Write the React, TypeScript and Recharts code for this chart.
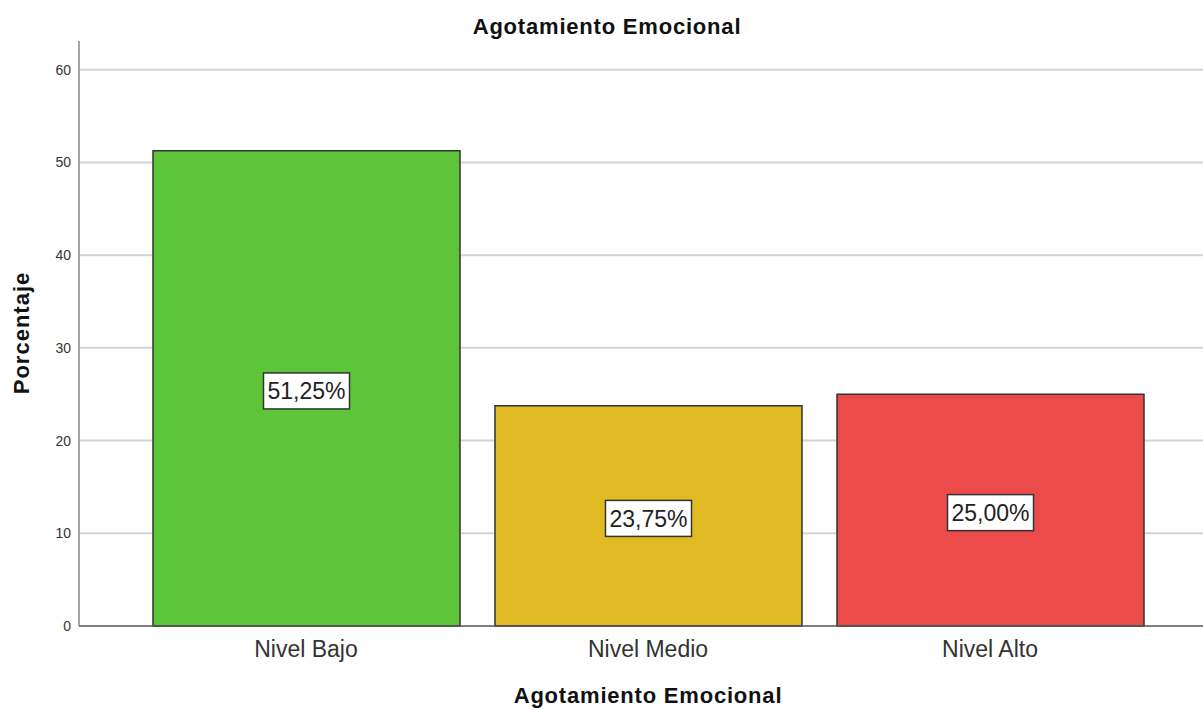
import React from 'react';
import { BarChart, Bar, XAxis, YAxis, CartesianGrid, Cell, LabelList } from 'recharts';

const categories = ['Nivel Bajo', 'Nivel Medio', 'Nivel Alto'];
const percentages = [51.25, 23.75, 25.0];
const barColors = ['#5EC43A', '#E0BA22', '#EB4B4B'];
const yTicks = [0, 10, 20, 30, 40, 50, 60];
const gridValues = [10, 20, 30, 40, 50, 60];

const chartData = categories.map((name, i) => ({ name, value: percentages[i] }));

const FONT = '"Liberation Sans", Arial, sans-serif';

// white box with the percentage in the middle of each bar
const BoxLabel = (props: any) => {
  const { x, y, width, height, value } = props;
  const text = value.toFixed(2).replace('.', ',') + '%';
  const cx = x + width / 2;
  const cy = y + height / 2 + 2.5;
  const w = 4 * 12.8 + 6.4 + 20.4 + 8;
  const h = 36;
  return (
    <g>
      <rect x={cx - w / 2} y={cy - h / 2} width={w} height={h} fill="#fff" stroke="#333" strokeWidth={1.5} />
      <text x={cx} y={cy + 8.3} textAnchor="middle" fontSize={23} fontFamily={FONT} fill="#222">
        {text}
      </text>
    </g>
  );
};

export default function App() {
  const titleStyle: React.CSSProperties = {
    position: 'absolute',
    fontWeight: 'bold',
    fontSize: 22,
    letterSpacing: 0.8,
    color: '#111',
    whiteSpace: 'nowrap',
  };
  return (
    <div style={{ position: 'absolute', left: 0, top: 0, width: 1203, height: 709, background: '#fff', fontFamily: FONT }}>
      <div style={{ ...titleStyle, top: 14, left: 607, transform: 'translateX(-50%)' }}>
        Agotamiento Emocional
      </div>
      <div style={{ ...titleStyle, left: 22, top: 333, letterSpacing: 1, transform: 'translate(-50%, -50%) rotate(-90deg)' }}>
        Porcentaje
      </div>
      <div style={{ ...titleStyle, top: 683, left: 648, transform: 'translateX(-50%)' }}>
        Agotamiento Emocional
      </div>
      <BarChart width={1203} height={709} data={chartData} margin={{ top: 41, right: 0, bottom: 0, left: 0 }} barSize={307}>
        <CartesianGrid vertical={false} horizontalValues={gridValues} stroke="#d4d4d4" strokeWidth={2} />
        <XAxis
          dataKey="name"
          height={83}
          padding={{ left: 56, right: 42 }}
          tickLine={false}
          tickSize={0}
          tickMargin={15}
          axisLine={{ stroke: '#555', strokeWidth: 1.5 }}
          tick={{ fontSize: 23, fill: '#333', fontFamily: FONT }}
        />
        <YAxis
          width={79}
          domain={[0, 63.1]}
          ticks={yTicks}
          tickLine={false}
          tickSize={0}
          tickMargin={8}
          axisLine={{ stroke: '#888', strokeWidth: 1.5 }}
          tick={{ fontSize: 14, fill: '#333', fontFamily: FONT }}
        />
        <Bar dataKey="value" stroke="#333" strokeWidth={1.5} isAnimationActive={false}>
          {chartData.map((d, i) => (
            <Cell key={d.name} fill={barColors[i]} />
          ))}
          <LabelList dataKey="value" content={<BoxLabel />} />
        </Bar>
      </BarChart>
    </div>
  );
}
